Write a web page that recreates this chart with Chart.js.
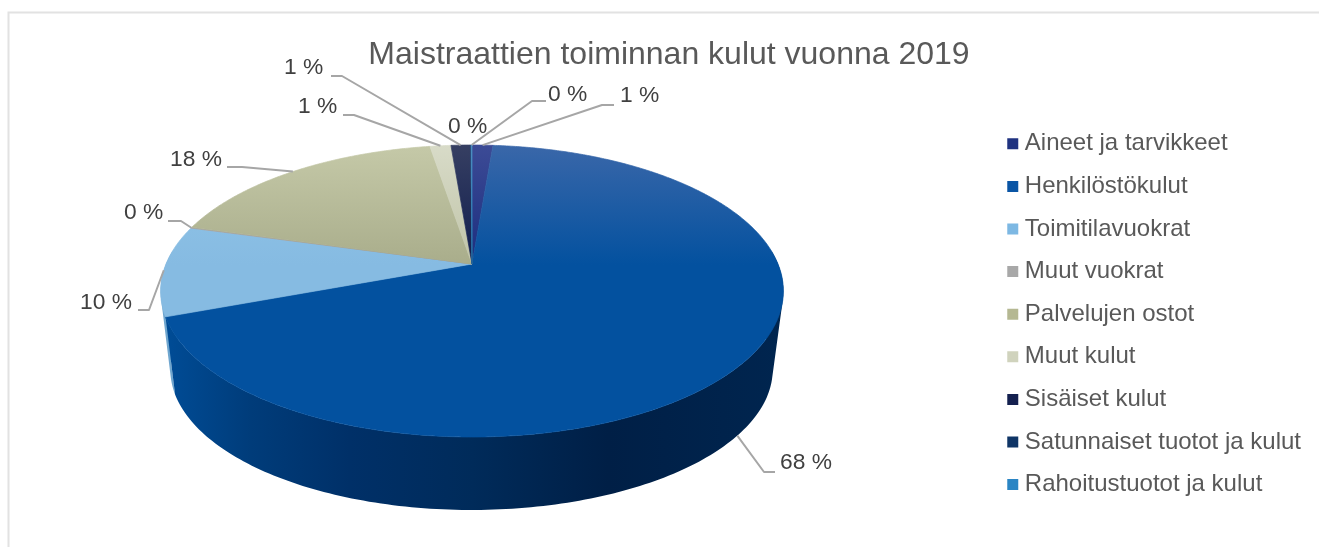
<!DOCTYPE html>
<html><head><meta charset="utf-8">
<style>html,body{margin:0;padding:0;background:#fff}canvas{display:block}</style>
<script src="https://cdn.jsdelivr.net/npm/chart.js@4/dist/chart.umd.min.js"></script>
</head><body>
<canvas id="c" width="1319" height="547"></canvas>
<script>
const categories = ["Aineet ja tarvikkeet","Henkilöstökulut","Toimitilavuokrat","Muut vuokrat","Palvelujen ostot","Muut kulut","Sisäiset kulut","Satunnaiset tuotot ja kulut","Rahoitustuotot ja kulut"];
const shares = [1.3, 68.0, 10.0, 0.1, 18.0, 1.3, 1.2, 0.05, 0.05];
const legendColors = ["#1f3280","#0a55a5","#7db8e3","#a8a8a8","#b5b892","#d0d3bd","#14204f","#0f3566","#2a85c4"];
const farColors = ["#3c4b96","#3a67a9","#93c6e8","#bbbbbb","#c5c9a8","#d8dbc8","#363f62","#1c3a6b","#4a90c4"];
const nearColors = ["#1c2d7e","#03519f","#86bbe2","#999999","#a9ad8b","#c0c4a8","#101d4e","#0a2f5f","#2a80bb"];
const titleText = "Maistraattien toiminnan kulut vuonna 2019";

// perspective view of the pie: top rim and lower rim
const K = -0.185;
const TOP = {cx:472, cy:264, b:306, a:141};
const LOW = {cx:471.5, cy:343.6, b:296, a:135.6};
function rim(p, t){ const w = 1 + K*Math.sin(t); return [p.cx + p.b*Math.cos(t)/w, p.cy + p.a*Math.sin(t)/w]; }
function area(p){ let s=0; p.forEach((q,i)=>{ const r=p[(i+1)%p.length]; s+=q[0]*r[1]-r[0]*q[1]; }); return s; }

// label placement per slice: text start x, text middle y, line start, elbow, which rim
const callouts = [
  {tx:620, ty:96,  s:[614,105], e:[602,105]},
  {tx:780, ty:463, s:[775,472], e:[764,472], low:true},
  {tx:80,  ty:303, s:[138,310], e:[149,310]},
  {tx:124, ty:213, s:[168,221], e:[181,221]},
  {tx:170, ty:160, s:[227,167], e:[242,167]},
  {tx:298, ty:107, s:[343,115], e:[354,115]},
  {tx:284, ty:68,  s:[331,76],  e:[342,76]},
  {tx:448, ty:127},
  {tx:548, ty:95,  s:[546,101], e:[532,101]}
];

const frame = {
  id:'frame',
  afterLayout(ch){
    const L = ch.legend, h = L.bottom - L.top;
    L.top = 113.2; L.bottom = L.top + h;
  },
  beforeDraw(ch){
    const c = ch.ctx; c.save();
    c.fillStyle='#ffffff'; c.fillRect(0,0,ch.width,ch.height);
    c.strokeStyle='#e2e2e2'; c.lineWidth=2;
    c.beginPath(); c.moveTo(8.5,547); c.lineTo(8.5,12.5); c.lineTo(1319,12.5); c.stroke();
    c.restore();
  }
};

function sideGradient(c){
  const g = c.createLinearGradient(165,0,780,0);
  g.addColorStop(0,'#004c96'); g.addColorStop(0.14,'#003c7a'); g.addColorStop(0.3,'#003068');
  g.addColorStop(0.5,'#002b5a'); g.addColorStop(0.72,'#001f46'); g.addColorStop(1,'#00254f');
  return g;
}
const pie3d = {
  id:'pie3d',
  beforeDatasetDraw(ch, args){
    const c = ch.ctx, arcs = args.meta.data;
    const side = sideGradient(c);
    c.save();
    c.lineJoin='round';
    // side wall, far slices first
    const order = arcs.map((el,i)=>i).sort((p,q)=>Math.sin((arcs[p].startAngle+arcs[p].endAngle)/2)-Math.sin((arcs[q].startAngle+arcs[q].endAngle)/2));
    order.forEach(i=>{
      const el = arcs[i];
      const a0 = el.startAngle, a1 = el.endAngle, n = Math.max(1,Math.ceil((a1-a0)/(Math.PI/180)));
      const fill = i===1 ? side : (i===2 ? '#6fa6cf' : nearColors[i]);
      c.fillStyle = fill;
      c.beginPath();
      for(let j=0;j<n;j++){
        const t0=a0+(a1-a0)*j/n, t1=a0+(a1-a0)*(j+1)/n;
        if(Math.sin((t0+t1)/2) < -0.1) continue;
        let p=[rim(TOP,t0),rim(TOP,t1),rim(LOW,t1),rim(LOW,t0)];
        if(area(p)<0) p=p.reverse();
        c.moveTo(...p[0]); p.slice(1).forEach(q=>c.lineTo(...q)); c.closePath();
      }
      c.fill();
    });
    // top face
    arcs.forEach((el,i)=>{
      const a0 = el.startAngle, a1 = el.endAngle, n = Math.max(1,Math.ceil((a1-a0)/(Math.PI/360)));
      const g = c.createLinearGradient(0,145,0,437);
      g.addColorStop(0,farColors[i]); g.addColorStop(0.41,nearColors[i]); g.addColorStop(1,nearColors[i]);
      c.fillStyle=g; c.strokeStyle=g; c.lineWidth=0.7;
      c.beginPath(); c.moveTo(TOP.cx,TOP.cy);
      for(let j=0;j<=n;j++) c.lineTo(...rim(TOP,a0+(a1-a0)*j/n));
      c.closePath(); c.fill(); c.stroke();
    });
    c.restore();
    return false;
  },
  afterDatasetsDraw(ch){
    const c = ch.ctx, arcs = ch.getDatasetMeta(0).data;
    c.save();
    c.lineJoin='round';
    // leader lines first, then text
    arcs.forEach((el,i)=>{
      const o = callouts[i]; if(!o.s) return;
      const m = (el.startAngle+el.endAngle)/2, a = rim(o.low?LOW:TOP, m);
      c.strokeStyle='#a6a6a6'; c.lineWidth=2;
      c.beginPath(); c.moveTo(...o.s); c.lineTo(...o.e); c.lineTo(...a); c.stroke();
    });
    c.fillStyle='#404040'; c.font='22.8px "Liberation Sans"'; c.textBaseline='middle'; c.textAlign='left';
    arcs.forEach((el,i)=>{
      const o = callouts[i];
      c.fillText(Math.round(shares[i])+' %', o.tx, o.ty);
    });
    c.restore();
  }
};

new Chart(document.getElementById('c'),{
  type:'pie',
  data:{labels:categories,datasets:[{data:shares,backgroundColor:legendColors,borderWidth:0}]},
  plugins:[frame,pie3d],
  options:{
    responsive:false, animation:false,
    layout:{padding:{left:27,right:8,top:0,bottom:0}},
    plugins:{
      tooltip:{enabled:false},
      title:{display:true,text:titleText,color:'#595959',font:{family:'"Liberation Sans"',size:32,weight:'normal'},padding:{top:36,bottom:0}},
      legend:{position:'right',align:'start',labels:{usePointStyle:true,pointStyle:'rect',boxWidth:0.1,boxHeight:11,padding:18.6,color:'#595959',font:{family:'"Liberation Sans"',size:24}}}
    }
  }
});
</script>
</body></html>
